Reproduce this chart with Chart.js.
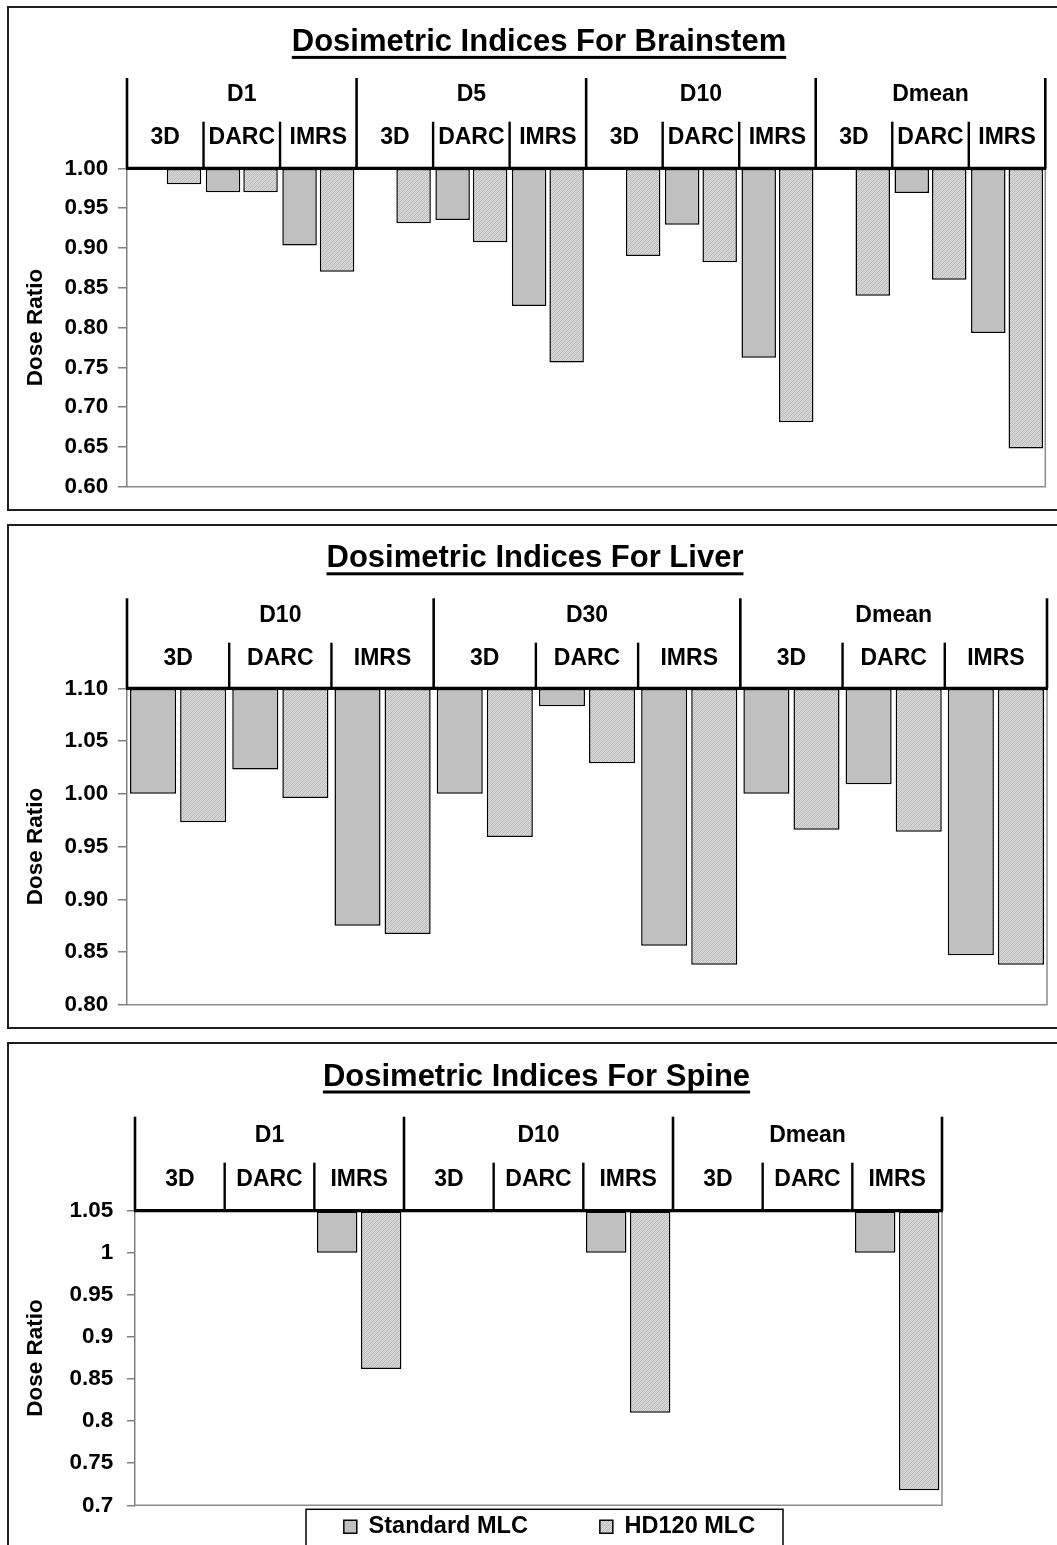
<!DOCTYPE html>
<html><head><meta charset="utf-8">
<script src="https://cdn.jsdelivr.net/npm/chart.js@4"></script>
<style>
html,body{margin:0;padding:0;background:#fff;overflow:hidden;width:1057px;height:1545px;position:relative;}
.panel{position:absolute;left:7px;width:1300px;border:2px solid #1e1e1e;box-sizing:border-box;}
canvas{position:absolute;left:0;}
</style></head><body>
<div class="panel" style="top:6px;height:505px"></div>
<div class="panel" style="top:524px;height:505px"></div>
<div class="panel" style="top:1042px;height:700px"></div>
<canvas id="c1" width="1080" height="504" style="top:6px"></canvas>
<canvas id="c2" width="1080" height="504" style="top:524px"></canvas>
<canvas id="c3" width="1080" height="600" style="top:1042px"></canvas>
<script>
// ---------- DATA ----------
const techniques = ['3D', 'DARC', 'IMRS'];
const seriesNames = ['Standard MLC', 'HD120 MLC'];
const axisTitle = 'Dose Ratio';

const brainstemTitle = 'Dosimetric Indices For Brainstem';
const brainstemGroups = ['D1', 'D5', 'D10', 'Dmean'];
const brainstemStandard = [1.00, 0.970, 0.903, 1.00, 0.935, 0.827, 1.00, 0.929, 0.762, 1.00, 0.969, 0.793];
const brainstemHD120 = [0.980, 0.970, 0.870, 0.931, 0.907, 0.756, 0.890, 0.882, 0.681, 0.840, 0.860, 0.648];
const brainstemTicks = ['0.60', '0.65', '0.70', '0.75', '0.80', '0.85', '0.90', '0.95', '1.00'];

const liverTitle = 'Dosimetric Indices For Liver';
const liverGroups = ['D10', 'D30', 'Dmean'];
const liverStandard = [1.000, 1.023, 0.875, 1.000, 1.083, 0.856, 1.000, 1.009, 0.847];
const liverHD120 = [0.973, 0.996, 0.867, 0.959, 1.029, 0.838, 0.966, 0.964, 0.838];
const liverTicks = ['0.80', '0.85', '0.90', '0.95', '1.00', '1.05', '1.10'];

const spineTitle = 'Dosimetric Indices For Spine';
const spineGroups = ['D1', 'D10', 'Dmean'];
const spineStandard = [null, null, 1.00, null, null, 1.00, null, null, 1.00];
const spineHD120 = [null, null, 0.862, null, null, 0.810, null, null, 0.718];
const spineTicks = ['0.7', '0.75', '0.8', '0.85', '0.9', '0.95', '1', '1.05'];

// ---------- STYLE ----------
const FAM = "'Liberation Sans', Arial, Helvetica, sans-serif";
const STD_COLOR = '#c0c0c0';

function makeHatch() {
  const c = document.createElement('canvas');
  c.width = 4; c.height = 4;
  const g = c.getContext('2d');
  g.fillStyle = '#d9d9d9'; g.fillRect(0, 0, 4, 4);
  g.fillStyle = '#b6b6b6';
  for (let i = 0; i < 4; i++) g.fillRect(i, 3 - i, 1, 1);
  g.fillStyle = '#c8c8c8';
  for (let i = 0; i < 4; i++) g.fillRect(i, (5 - i) % 4, 1, 1);
  return g.createPattern(c, 'repeat');
}
const HATCH = makeHatch();

const panelDecor = {
  id: 'panelDecor',
  afterLayout(chart, args, o) {
    const L = chart.legend;
    if (o.legendTextY !== undefined && L) {
      const lo = L.options.labels;
      const fs = lo.font.size;
      const ih = Math.max(fs, lo.boxHeight || fs);
      const newTop = chart.chartArea.bottom + o.legendTextY - lo.padding - ih / 2;
      const dy = newTop - L.top;
      L.top += dy; L.bottom += dy;
      L.left += o.legendDx; L.right += o.legendDx;
    }
  },
  afterDraw(chart, args, o) {
    const ctx = chart.ctx, a = chart.chartArea, x = chart.scales.x;
    const n = chart.data.labels.length;
    const half = (x.getPixelForValue(1) - x.getPixelForValue(0)) / 2;
    const edge = i => (i < n ? x.getPixelForValue(i) - half : x.getPixelForValue(n - 1) + half);
    const per = o.techniques.length;
    ctx.save();
    // plot frame (gray) right & bottom
    ctx.strokeStyle = '#8c8c8c';
    ctx.lineWidth = 1.5;
    ctx.beginPath();
    ctx.moveTo(a.left, a.bottom);
    ctx.lineTo(a.right, a.bottom);
    ctx.lineTo(a.right, a.top);
    ctx.stroke();
    // separators
    ctx.strokeStyle = '#000';
    for (let i = 0; i <= n; i++) {
      const px = edge(i);
      const isGroup = i % per === 0;
      ctx.lineWidth = isGroup ? 2.6 : 2.4;
      ctx.beginPath();
      ctx.moveTo(px, a.top - (isGroup ? o.groupTop : o.subTop));
      ctx.lineTo(px, a.top);
      ctx.stroke();
    }
    // baseline
    ctx.lineWidth = 3.2;
    ctx.beginPath();
    ctx.moveTo(a.left - 1, a.top);
    ctx.lineTo(a.right + 1, a.top);
    ctx.stroke();
    // labels
    ctx.fillStyle = '#000';
    ctx.textAlign = 'center';
    ctx.textBaseline = 'middle';
    ctx.font = 'bold ' + o.labelSize + 'px ' + FAM;
    for (let i = 0; i < n; i++) {
      ctx.fillText(o.techniques[i % per], x.getPixelForValue(i), a.top - o.subLabel);
    }
    o.groups.forEach((g, gi) => {
      const cx = (edge(gi * per) + edge((gi + 1) * per)) / 2;
      ctx.fillText(g, cx, a.top - o.groupLabel);
    });
    // title underline
    const tb = chart.titleBlock;
    const t = chart.options.plugins.title;
    if (tb && t && t.display) {
      const size = t.font.size;
      ctx.font = 'bold ' + size + 'px ' + FAM;
      const tw = ctx.measureText(t.text).width;
      const cx = (tb.left + tb.right) / 2;
      const midY = tb.top + t.padding.top + size * 1.2 / 2;
      ctx.fillRect(cx - tw / 2, midY + o.underline - 1.5, tw, 3);
    }
    // legend frame
    const L = chart.legend;
    if (o.legendBoxWidth && L) {
      const cx = (L.left + L.right) / 2 + o.legendBoxDx;
      ctx.strokeStyle = '#000';
      ctx.lineWidth = 1.5;
      ctx.strokeRect(cx - o.legendBoxWidth / 2, a.bottom + 4, o.legendBoxWidth, 200);
    }
    ctx.restore();
  }
};

function buildChart(id, cfg) {
  const labels = [];
  cfg.groups.forEach(g => techniques.forEach(t => labels.push(g + ' ' + t)));
  const tickVals = cfg.ticks.map(t => parseFloat(t));
  const base = tickVals[tickVals.length - 1];
  const barCommon = {
    borderColor: '#000', borderWidth: 1.5, borderSkipped: false, base: base,
    categoryPercentage: 0.98, barPercentage: 0.92, inflateAmount: 0
  };
  const tickFont = { family: FAM, size: 22.5, weight: 'bold' };
  const W = 1080;
  // the title is centred over [0, outerRight]; an empty right-hand axis fills the gap to the plot edge
  const outerRight = 2 * cfg.titleCenter;
  const spacerWidth = outerRight - cfg.plotRight;
  return new Chart(document.getElementById(id), {
    type: 'bar',
    data: {
      labels: labels,
      datasets: [
        Object.assign({ label: seriesNames[0], data: cfg.standard, backgroundColor: STD_COLOR }, barCommon),
        Object.assign({ label: seriesNames[1], data: cfg.hd120, backgroundColor: HATCH }, barCommon)
      ]
    },
    options: {
      responsive: false, animation: false, events: [],
      layout: { padding: { top: 0, left: 0, right: W - outerRight, bottom: cfg.padBottom } },
      scales: {
        x: {
          position: 'top',
          afterFit: s => { s.height = cfg.xHeight; },
          ticks: { display: false },
          grid: { display: false },
          border: { display: false }
        },
        y: {
          min: tickVals[0], max: base,
          afterBuildTicks: s => { s.ticks = tickVals.map(v => ({ value: v })); },
          afterFit: s => { s.width = cfg.plotLeft; },
          ticks: { callback: (v, i) => cfg.ticks[i], font: tickFont, color: '#000', padding: cfg.tickPad, autoSkip: false },
          grid: { drawOnChartArea: false, drawTicks: true, tickLength: cfg.tickLen, color: '#808080', lineWidth: 1.5 },
          border: { display: true, color: '#808080', width: 1.5 },
          title: { display: true, text: axisTitle, font: tickFont, color: '#000', padding: { top: 22.5, bottom: 0 } }
        },
        spacer: {
          type: 'linear', position: 'right', display: true,
          afterFit: s => { s.width = spacerWidth; },
          ticks: { display: false },
          grid: { display: false },
          border: { display: false }
        }
      },
      plugins: {
        title: {
          display: true, text: cfg.title, color: '#000',
          font: { family: FAM, size: 31, weight: 'bold' },
          padding: { top: cfg.titlePadTop, bottom: 0 }
        },
        legend: cfg.legend ? {
          display: true, position: 'bottom', fullSize: false, maxHeight: 100,
          labels: { boxWidth: 13, boxHeight: 13, padding: 72, color: '#000', font: { family: FAM, size: 23.5, weight: 'bold' } }
        } : { display: false },
        tooltip: { enabled: false },
        panelDecor: Object.assign({
          techniques: techniques, groups: cfg.groups, labelSize: 23, underline: 15
        }, cfg.decor)
      }
    },
    plugins: [panelDecor]
  });
}

buildChart('c1', {
  title: brainstemTitle, groups: brainstemGroups, standard: brainstemStandard, hd120: brainstemHD120, ticks: brainstemTicks,
  plotLeft: 127, plotRight: 1045.3, titleCenter: 539, padBottom: 22.7, xHeight: 107.3, tickPad: 9.7, tickLen: 9, titlePadTop: 17.8,
  decor: { groupTop: 90.3, subTop: 46.6, groupLabel: 74, subLabel: 30.3 }
});
buildChart('c2', {
  title: liverTitle, groups: liverGroups, standard: liverStandard, hd120: liverHD120, ticks: liverTicks,
  plotLeft: 127, plotRight: 1047, titleCenter: 535, padBottom: 22.5, xHeight: 110.9, tickPad: 9.7, tickLen: 9, titlePadTop: 16.2,
  decor: { groupTop: 90, subTop: 45.6, groupLabel: 72.7, subLabel: 29.2 }
});
buildChart('c3', {
  title: spineTitle, groups: spineGroups, standard: spineStandard, hd120: spineHD120, ticks: spineTicks,
  plotLeft: 135, plotRight: 942, titleCenter: 536.5, padBottom: 600 - 463.3 - 100, xHeight: 115.1, tickPad: 13.7, tickLen: 8, titlePadTop: 16.4,
  legend: true,
  decor: { groupTop: 94, subTop: 48, groupLabel: 75.4, subLabel: 31.2, legendTextY: 21.5, legendDx: 11, legendBoxWidth: 477, legendBoxDx: -5 }
});
</script>
</body></html>
